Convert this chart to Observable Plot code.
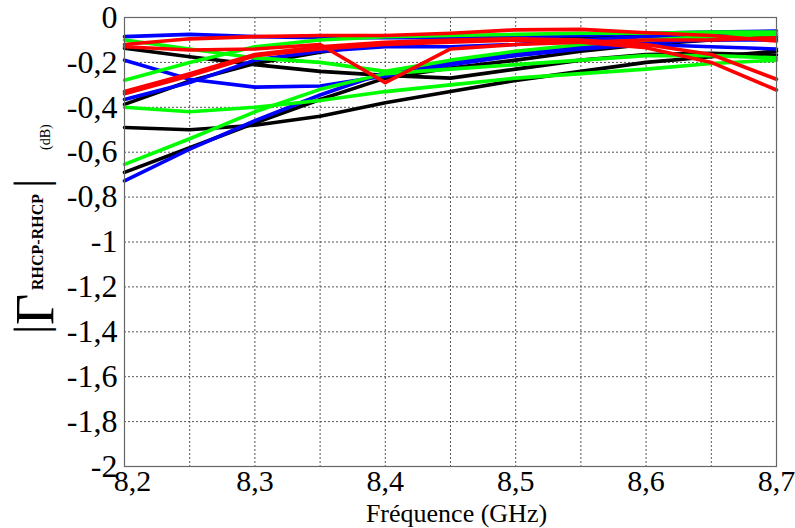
<!DOCTYPE html>
<html>
<head>
<meta charset="utf-8">
<script src="https://cdn.jsdelivr.net/npm/d3@7"></script>
<script src="https://cdn.jsdelivr.net/npm/@observablehq/plot@0.6"></script>
<style>
  html, body { margin: 0; padding: 0; background: #ffffff; }
  #chart { width: 795px; height: 528px; }
  #chart svg text { font-family: "Liberation Serif", "Times New Roman", serif !important; }
</style>
</head>
<body>
<div id="chart"></div>
<script>
// Frequency samples (GHz)
const freq = [8.2, 8.25, 8.3, 8.35, 8.4, 8.45, 8.5, 8.55, 8.6, 8.65, 8.7];

// Black curves (dB)
const black1 = [-0.49, -0.50, -0.48, -0.44, -0.38, -0.33, -0.28, -0.24, -0.20, -0.175, -0.15];
const black2 = [-0.69, -0.58, -0.47, -0.365, -0.27, -0.225, -0.19, -0.15, -0.12, -0.10, -0.09];
const black3 = [-0.137, -0.175, -0.21, -0.24, -0.258, -0.27, -0.23, -0.19, -0.165, -0.16, -0.167];
const black4 = [-0.387, -0.283, -0.205, -0.155, -0.115, -0.10, -0.085, -0.085, -0.08, -0.08, -0.08];

// Blue curves (dB)
const blue1 = [-0.085, -0.075, -0.085, -0.09, -0.09, -0.09, -0.085, -0.08, -0.07, -0.065, -0.06];
const blue2 = [-0.19, -0.275, -0.31, -0.305, -0.26, -0.21, -0.17, -0.14, -0.12, -0.13, -0.14];
const blue3 = [-0.365, -0.29, -0.19, -0.15, -0.13, -0.13, -0.12, -0.10, -0.085, -0.075, -0.07];
const blue4 = [-0.728, -0.586, -0.46, -0.345, -0.245, -0.20, -0.16, -0.13, -0.11, -0.10, -0.10];

// Green curves (dB)
const green1 = [-0.10, -0.14, -0.18, -0.20, -0.24, -0.19, -0.15, -0.12, -0.10, -0.085, -0.075];
const green2 = [-0.28, -0.20, -0.13, -0.10, -0.085, -0.08, -0.075, -0.07, -0.07, -0.065, -0.065];
const green3 = [-0.40, -0.42, -0.40, -0.37, -0.33, -0.30, -0.27, -0.25, -0.23, -0.205, -0.19];
const green4 = [-0.654, -0.54, -0.42, -0.32, -0.25, -0.23, -0.21, -0.19, -0.17, -0.17, -0.18];

// Red curves (dB)
const red1 = [-0.12, -0.095, -0.085, -0.08, -0.08, -0.07, -0.055, -0.053, -0.068, -0.08, -0.105];
const red2 = [-0.13, -0.145, -0.14, -0.12, -0.29, -0.14, -0.12, -0.11, -0.10, -0.10, -0.09];
const red3 = [-0.33, -0.25, -0.165, -0.13, -0.11, -0.10, -0.095, -0.10, -0.12, -0.165, -0.275];
const red4 = [-0.34, -0.26, -0.17, -0.14, -0.12, -0.11, -0.10, -0.11, -0.135, -0.20, -0.323];

// Axis ticks
const xTicksFirst = [8.2];
const xTicks = [8.3, 8.4, 8.5, 8.6, 8.7];
const xGrid = [8.25, 8.3, 8.35, 8.4, 8.45, 8.5, 8.55, 8.6, 8.65];
const yTicks = [0, -0.2, -0.4, -0.6, -0.8, -1, -1.2, -1.4, -1.6, -1.8, -2];
const xLabel = "Fréquence (GHz)";

const seriesList = [
  ["black", black1], ["black", black2], ["black", black3], ["black", black4],
  ["#0000ff", blue1], ["#0000ff", blue2], ["#0000ff", blue3], ["#0000ff", blue4],
  ["#00ff00", green1], ["#00ff00", green2], ["#00ff00", green3], ["#00ff00", green4],
  ["#ff0000", red1], ["#ff0000", red2], ["#ff0000", red3], ["#ff0000", red4]
];
const rows = [];
seriesList.forEach(([color, vals], i) => {
  vals.forEach((v, j) => rows.push({id: i, color, f: freq[j], v}));
});

const fmt = d => String(Math.round(d * 10) / 10).replace(".", ",");
const xAxisOpts = {tickSize: 0, tickPadding: 3, tickFormat: fmt, fontSize: 30, fontVariant: "normal", label: null};

const chart = Plot.plot({
  width: 795,
  height: 528,
  marginLeft: 124,
  marginRight: 19,
  marginTop: 17,
  marginBottom: 62,
  style: {background: "#ffffff", color: "#000"},
  x: {domain: [8.2, 8.7]},
  y: {domain: [-2, 0]},
  marks: [
    Plot.gridX(xGrid, {stroke: "#555", strokeOpacity: 1, strokeDasharray: "2,2", strokeWidth: 1}),
    Plot.gridY(yTicks, {stroke: "#555", strokeOpacity: 1, strokeDasharray: "2,2", strokeWidth: 1}),
    Plot.line(rows, {x: "f", y: "v", z: "id", stroke: "color", strokeWidth: 3.6, strokeLinejoin: "round"}),
    Plot.frame({stroke: "#666", strokeWidth: 1.2}),
    Plot.axisX(xTicksFirst, {...xAxisOpts, dx: 8}),
    Plot.axisX(xTicks, xAxisOpts),
    Plot.axisY(yTicks, {tickSize: 0, tickPadding: 7, tickFormat: fmt, fontSize: 32, fontVariant: "normal", label: null}),
    Plot.text([xLabel], {frameAnchor: "bottom", dy: 55, dx: 6, fontSize: 26, text: d => d})
  ]
});
document.getElementById("chart").appendChild(chart);

// Y axis label: |Γ RHCP-RHCP| (dB), rotated
const svg = d3.select(chart);
const g = svg.append("g").attr("fill", "#000").attr("text-anchor", "start");
function rot(x, y, txt, size, weight) {
  g.append("text")
    .attr("transform", `translate(${x},${y}) rotate(-90)`)
    .attr("font-size", size)
    .attr("font-weight", weight || "normal")
    .text(txt);
}
rot(46, 334, "|", 46);
rot(53, 325, "Γ", 54);
rot(43, 290, "RHCP-RHCP", 16, "bold");
rot(46, 188, "|", 46);
rot(50, 150, "(dB)", 14);
</script>
</body>
</html>
